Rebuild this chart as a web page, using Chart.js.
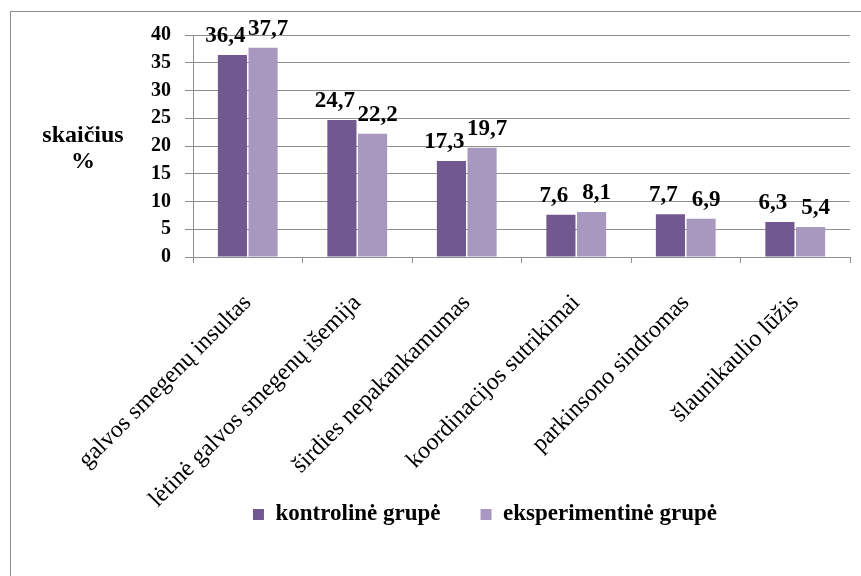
<!DOCTYPE html>
<html>
<head>
<meta charset="utf-8">
<script src="https://cdn.jsdelivr.net/npm/chart.js@4.4.1/dist/chart.umd.min.js"></script>
<style>
  html, body { margin: 0; padding: 0; background: #ffffff; }
  #wrap { position: relative; width: 861px; height: 576px; }
</style>
</head>
<body>
<div id="wrap"><canvas id="c" width="861" height="576"></canvas></div>
<script>
const categories = [
  'galvos smegenų insultas',
  'lėtinė galvos smegenų išemija',
  'širdies nepakankamumas',
  'koordinacijos sutrikimai',
  'parkinsono sindromas',
  'šlaunikaulio lūžis'
];
const seriesNames = ['kontrolinė grupė', 'eksperimentinė grupė'];
const kontroline = [36.4, 24.7, 17.3, 7.6, 7.7, 6.3];
const eksperimentine = [37.7, 22.2, 19.7, 8.1, 6.9, 5.4];
const yTitleLines = ['skaičius', '%'];
const yMin = 0, yMax = 40, yStep = 5;

const SERIF = '"Liberation Serif", "Times New Roman", serif';
const GRID = '#8f8f8f';

const frame = {
  id: 'frame',
  beforeDraw(chart) {
    const ctx = chart.ctx;
    ctx.save();
    ctx.fillStyle = '#ffffff';
    ctx.fillRect(0, 0, chart.width, chart.height);
    ctx.strokeStyle = '#8c8c8c';
    ctx.lineWidth = 1;
    ctx.strokeRect(10.5, 11.5, 900, 700);
    ctx.restore();
  }
};

const yTitle = {
  id: 'yTitle',
  afterDraw(chart) {
    const ctx = chart.ctx;
    ctx.save();
    ctx.fillStyle = '#000';
    ctx.font = 'bold 24px ' + SERIF;
    ctx.textAlign = 'center';
    ctx.textBaseline = 'alphabetic';
    ctx.fillText(yTitleLines[0], 83, 142);
    ctx.fillText(yTitleLines[1], 83, 168);
    ctx.restore();
  }
};

const layoutTweaks = {
  id: 'layoutTweaks',
  afterLayout(chart) {
    const lg = chart.legend;
    if (lg) { lg.left += 60; lg.right += 60; }
    const xs = chart.scales.x;
    if (xs) { xs.bottom = chart.height; xs.height = xs.bottom - xs.top; }
  }
};

const valueLabels = {
  id: 'valueLabels',
  afterDatasetsDraw(chart) {
    const ctx = chart.ctx;
    ctx.save();
    ctx.fillStyle = '#000';
    ctx.font = 'bold 23px ' + SERIF;
    ctx.textAlign = 'center';
    ctx.textBaseline = 'alphabetic';
    chart.data.datasets.forEach((ds, di) => {
      const meta = chart.getDatasetMeta(di);
      const dx = di === 0 ? -7 : 5;
      meta.data.forEach((bar, i) => {
        const txt = ds.data[i].toFixed(1).replace('.', ',');
        ctx.fillText(txt, bar.x + dx, bar.y - 13);
      });
    });
    ctx.restore();
  }
};

new Chart(document.getElementById('c'), {
  type: 'bar',
  data: {
    labels: categories,
    datasets: [
      { label: seriesNames[0], data: kontroline, backgroundColor: '#715890', borderWidth: 0 },
      { label: seriesNames[1], data: eksperimentine, backgroundColor: '#a898c0', borderWidth: 0 }
    ]
  },
  options: {
    responsive: false,
    animation: false,
    devicePixelRatio: 1,
    layout: { padding: { left: 0, top: 35, right: 11, bottom: 40 } },
    datasets: { bar: { categoryPercentage: 0.56, barPercentage: 0.95 } },
    scales: {
      x: {
        offset: true,
        grid: { display: true, drawOnChartArea: false, drawTicks: true, tickLength: 6, color: GRID, offset: true },
        border: { display: true, color: GRID, width: 1 },
        ticks: {
          color: '#000',
          font: { family: SERIF, size: 24 },
          maxRotation: 45, minRotation: 45, autoSkip: false, padding: 26
        },
        afterFit(scale) { scale.height = 206; }
      },
      y: {
        min: yMin, max: yMax,
        grid: { color: GRID, lineWidth: 1, tickLength: 8, drawTicks: true },
        border: { display: true, color: GRID, width: 1 },
        ticks: {
          stepSize: yStep, autoSkip: false, color: '#000', padding: 14,
          font: { family: SERIF, size: 20, weight: 'bold' }
        },
        afterFit(scale) { scale.width = 193; }
      }
    },
    plugins: {
      legend: {
        position: 'bottom',
        labels: {
          color: '#000',
          boxWidth: 11, boxHeight: 11,
          padding: 40,
          font: { family: SERIF, size: 23, weight: 'bold' }
        }
      },
      tooltip: { enabled: false }
    }
  },
  plugins: [frame, yTitle, layoutTweaks, valueLabels]
});
</script>
</body>
</html>
